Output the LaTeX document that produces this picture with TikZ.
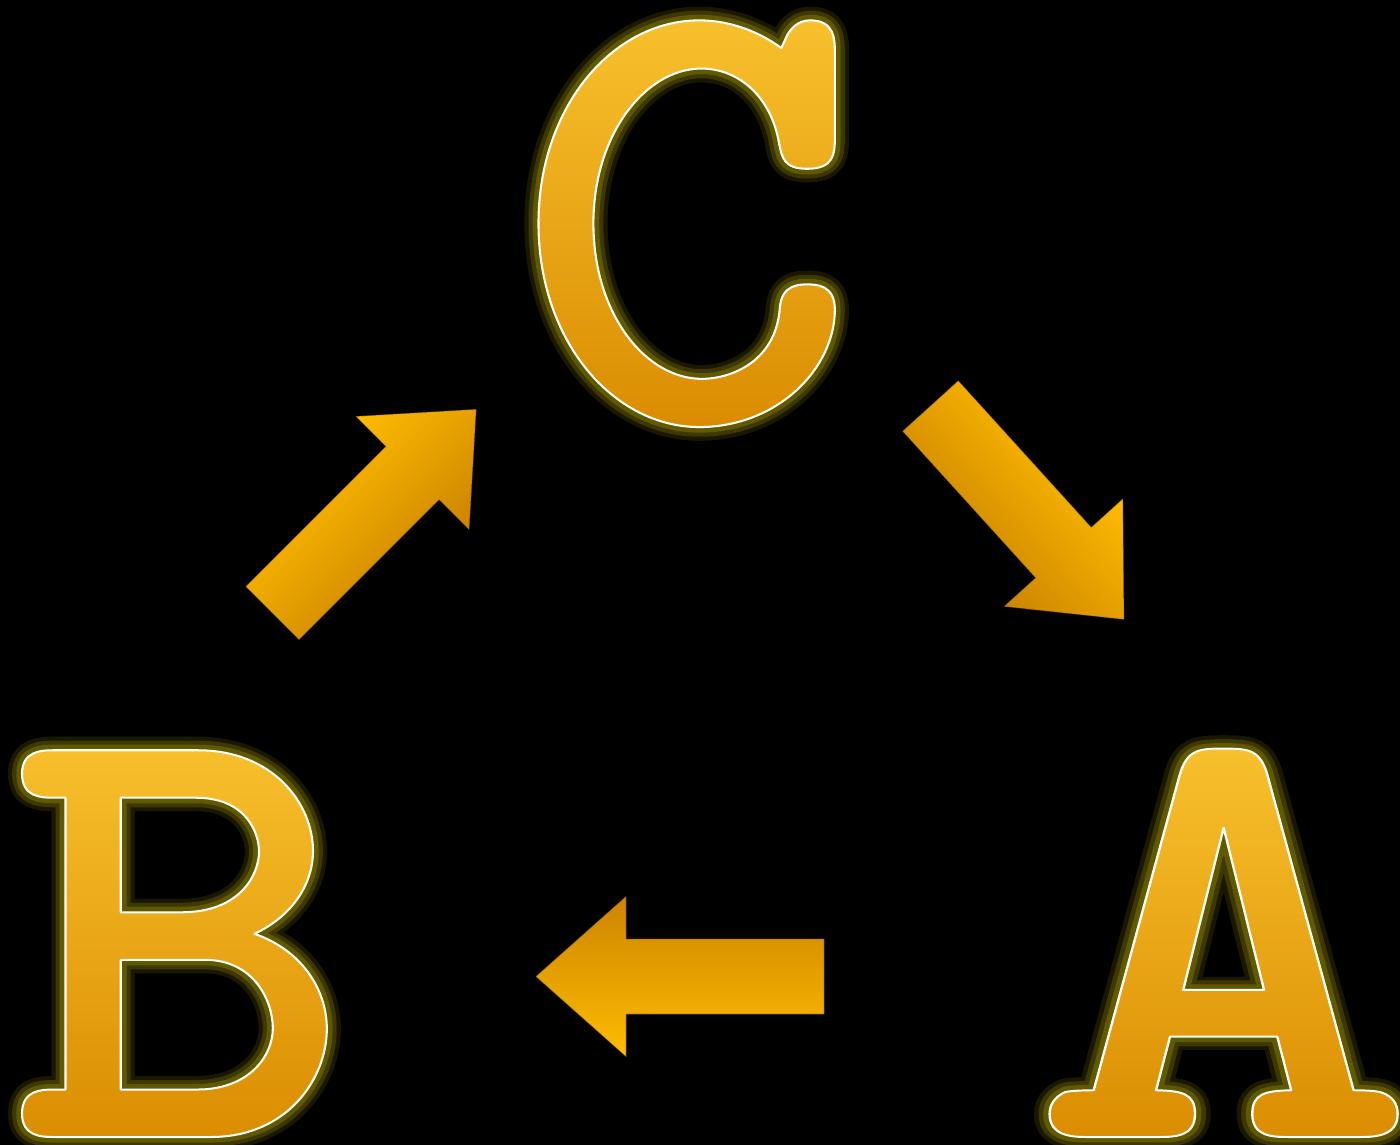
\documentclass[tikz,border=0pt]{standalone}
\definecolor{gtop}{HTML}{F8C12E}
\definecolor{gbot}{HTML}{DA8C00}
\definecolor{abright}{HTML}{FFBC00}
\definecolor{adark}{HTML}{CC8400}
\newcommand\letterfont{\fontfamily{lmtt}\fontseries{b}\fontshape{n}\fontsize{633}{700}\selectfont}
\pgfdeclareverticalshading{lettershade}{420pt}{color(0pt)=(gbot); color(410pt)=(gtop)}
% stroke-only layer: #1 text, #2 width, #3 rgb
\newcommand\strokelayer[3]{\special{pdf:literal direct 1 Tr #2 w 1 j #3 RG}#1\special{pdf:literal direct 0 Tr}}
% glow stroke + clip, then gradient fill inside the glyph
\newcommand\filllayer[1]{\special{pdf:literal direct q 5 Tr 11 w 1 j 0.38 0.35 0 RG}#1\special{pdf:literal direct 0 Tr}\llap{\raisebox{-10pt}{\pgfuseshading{lettershade}}}\special{pdf:literal direct Q}}
\tikzset{
  glyph/.style={inner sep=0pt, anchor=base, font=\letterfont},
  blockarrow/.style={top color=abright, bottom color=adark, draw=adark!70!black, draw opacity=0.5, line width=0.6pt}
}
\newcommand\glowletter[1]{%
  \node[glyph] (#1-glowa) at (0,0) {\strokelayer{#1}{27}{0.10 0.09 0}};
  \node[glyph] (#1-glowb) at (0,0) {\strokelayer{#1}{19}{0.24 0.22 0}};
  \node[glyph] (#1-fill) at (0,0) {\filllayer{#1}};
  \node[glyph] (#1) at (0,0) {\strokelayer{#1}{2}{1 1 1}};
}
\newcommand\arrowpath{(0,37.5) -- (198,37.5) -- (198,80) -- (288,0) -- (198,-80) -- (198,-37.5) -- (0,-37.5) -- cycle}
\begin{document}
\begin{tikzpicture}[x=1pt,y=-1pt]
\fill[black] (0,0) rectangle (1400,1145);
\useasboundingbox (0,0) rectangle (1400,1145);
% letters
\coordinate (posC) at (687,420);
\coordinate (posB) at (181,1137);
\coordinate (posA) at (1224,1137);
\begin{scope}[shift={(posC)}, xscale=1.045, yscale=1.015, transform shape]
  \glowletter{C}
\end{scope}
\begin{scope}[shift={(posB)}, xscale=1.04, transform shape]
  \glowletter{B}
\end{scope}
\begin{scope}[shift={(posA)}, xscale=1.16, yscale=0.985, transform shape]
  \glowletter{A}
\end{scope}
% arrows
\coordinate (bc-tail) at (272.5,613);
\coordinate (ca-tail) at (930.5,406);
\coordinate (ab-tail) at (824,976.5);
\begin{scope}[transform canvas={shift={(bc-tail)}, rotate=45}]
  \shade[blockarrow] \arrowpath;
\end{scope}
\begin{scope}[transform canvas={shift={(ca-tail)}, rotate=-47.8}]
  \shade[blockarrow] \arrowpath;
\end{scope}
\begin{scope}[transform canvas={shift={(ab-tail)}, rotate=180}]
  \shade[blockarrow] \arrowpath;
\end{scope}
\end{tikzpicture}
\end{document}
